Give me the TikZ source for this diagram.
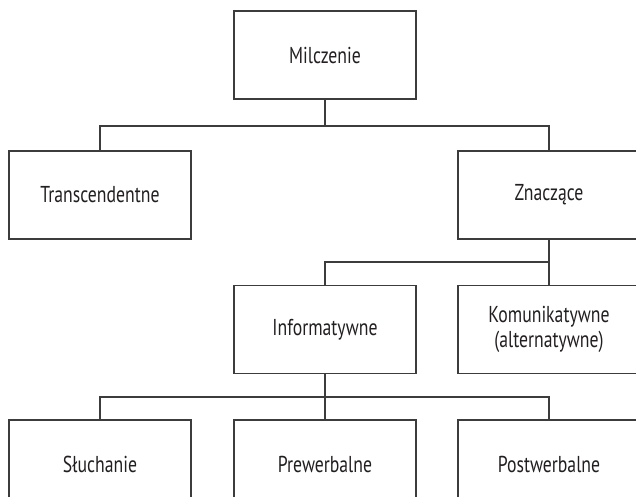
\documentclass[tikz,border=0pt]{standalone}
\usepackage{fontspec}
\setmainfont{PT Sans}[FakeStretch=0.77]
\definecolor{linec}{HTML}{3C3C3C}
\definecolor{textc}{HTML}{231F20}
\begin{document}
\begin{tikzpicture}[x=1pt,y=-1pt,
  box/.style={draw=linec,line width=1.1pt,rectangle,minimum width=182pt,minimum height=88pt,
    inner sep=0pt,align=center,text=textc,font=\fontsize{23}{25}\selectfont},
  conn/.style={draw=linec,line width=1.1pt}]
\useasboundingbox (0,0) rectangle (636,496);
\node[box] (mil) at (325,55) {Milczenie};
\node[box] (tra) at (100,195) {Transcendentne};
\node[box] (zna) at (549,195) {Znaczące};
\node[box] (inf) at (325,329.5) {Informatywne};
\node[box] (kom) at (549,329.5) {Komunikatywne\\(alternatywne)};
\node[box] (slu) at (100,464) {Słuchanie};
\node[box] (pre) at (325,464) {Prewerbalne};
\node[box] (pos) at (549,464) {Postwerbalne};
\coordinate (j1) at (325,126);
\coordinate (j2) at (549,262);
\coordinate (j3) at (325,397);
\draw[conn] (mil.south) -- (j1);
\draw[conn] (tra.north) |- (j1) -| (zna.north);
\draw[conn] (zna.south) -- (j2) -- (kom.north);
\draw[conn] (inf.north) |- (j2);
\draw[conn] (inf.south) -- (j3) -- (pre.north);
\draw[conn] (slu.north) |- (j3) -| (pos.north);
\end{tikzpicture}
\end{document}
